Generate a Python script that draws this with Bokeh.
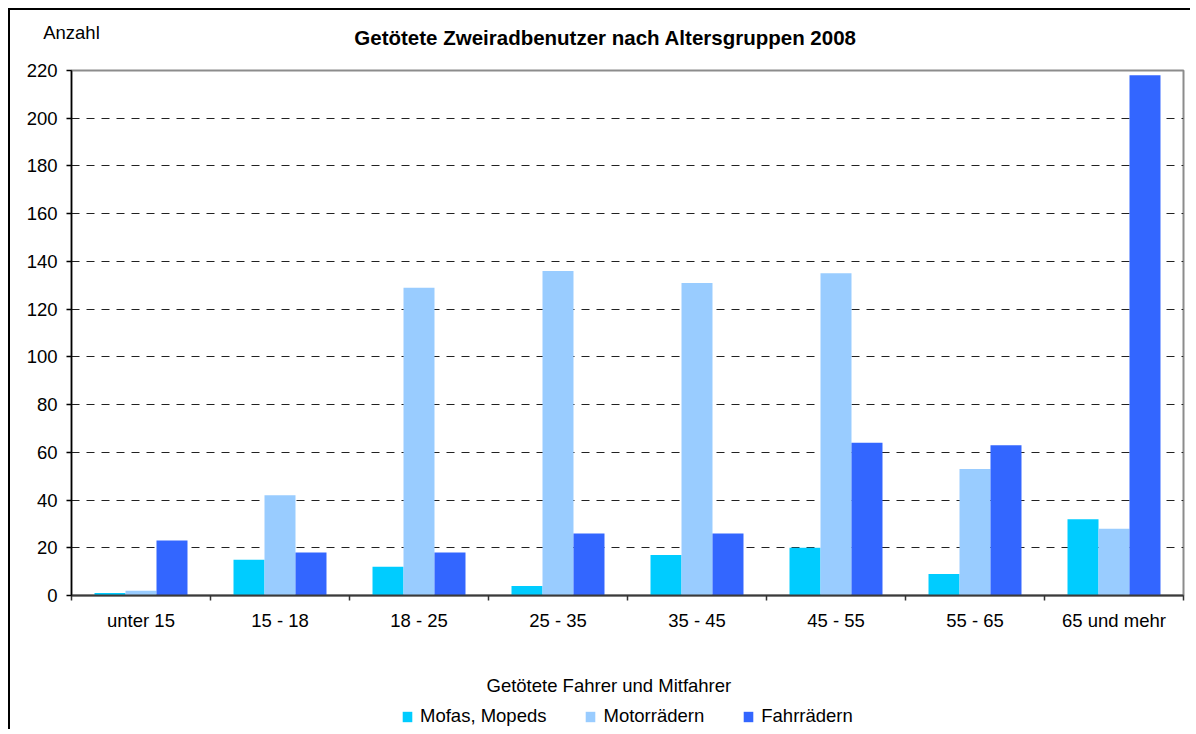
import numpy as np
from bokeh.plotting import figure
from bokeh.layouts import column
from bokeh.models import Range1d, FixedTicker, Legend, LegendItem, LinearAxis, Label
from bokeh.embed import file_html
from bokeh.resources import INLINE

# ---- data ----
categories = ["unter 15", "15 - 18", "18 - 25", "25 - 35", "35 - 45", "45 - 55", "55 - 65", "65 und mehr"]
mofas = [1, 15, 12, 4, 17, 20, 9, 32]
motorraeder = [2, 42, 129, 136, 131, 135, 53, 28]
fahrraeder = [23, 18, 18, 26, 26, 64, 63, 218]
series_names = ["Mofas, Mopeds", "Motorrädern", "Fahrrädern"]
series_colors = ["#00CCFF", "#99CCFF", "#3366FF"]
y_ticks = list(range(0, 221, 20))
title_text = "Getötete Zweiradbenutzer nach Altersgruppen 2008"
y_unit = "Anzahl"
legend_title = "Getötete Fahrer und Mitfahrer"

FONT = "Liberation Sans"
FS = "18.5px"
W = 1180

p = figure(width=W, height=625, x_range=Range1d(0, len(categories)),
           y_range=Range1d(0, 220), output_backend="svg", toolbar_location=None,
           min_border_left=61, min_border_right=7, min_border_top=60, min_border_bottom=40)
p.background_fill_color = "white"
p.border_fill_color = "white"
p.outline_line_color = "#8c8c8c"
p.outline_line_width = 2

bar_w = 0.223
centers = np.arange(len(categories)) + 0.5
series_values = [mofas, motorraeder, fahrraeder]
renderers = []
for k, (vals, color) in enumerate(zip(series_values, series_colors)):
    r = p.vbar(x=centers + (k - 1) * bar_w, top=vals, bottom=0, width=bar_w,
               fill_color=color, line_color=None)
    renderers.append(r)

# x axis
xa = p.xaxis[0]
xa.ticker = FixedTicker(ticks=list(centers), minor_ticks=list(range(len(categories) + 1)))
xa.major_label_overrides = {float(c): lab for c, lab in zip(centers, categories)}
xa.major_tick_out = 0
xa.major_tick_in = 0
xa.minor_tick_out = 5
xa.minor_tick_in = 0
xa.minor_tick_line_color = "#333333"
xa.minor_tick_line_width = 1.5
xa.axis_line_color = "#3a3a3a"
xa.axis_line_width = 2
xa.major_label_standoff = 9
xa.major_label_text_font = FONT
xa.major_label_text_font_size = FS
xa.major_label_text_color = "#000000"

# y axis
ya = p.yaxis[0]
ya.ticker = FixedTicker(ticks=y_ticks)
ya.major_tick_out = 5
ya.major_tick_in = 0
ya.major_tick_line_color = "#000000"
ya.major_tick_line_width = 1.5
ya.minor_tick_line_color = None
ya.axis_line_color = "#000000"
ya.axis_line_width = 1.5
ya.major_label_standoff = 9
ya.major_label_text_font = FONT
ya.major_label_text_font_size = FS
ya.major_label_text_color = "#000000"

p.xgrid.visible = False
p.ygrid.ticker = FixedTicker(ticks=y_ticks[1:-1])
p.ygrid.grid_line_color = "#222222"
p.ygrid.grid_line_dash = "8 7"
p.ygrid.grid_line_width = 1.2

# ---- above: chart title (nearest), then unit label ----
TITLE_X = 3.842  # horizontal anchor of the title, in category units
title_axis = LinearAxis(ticker=FixedTicker(ticks=[TITLE_X]), major_label_overrides={TITLE_X: title_text},
                        axis_line_color=None, major_tick_line_color=None,
                        minor_tick_line_color=None, major_tick_out=0, major_tick_in=0,
                        major_label_standoff=22, major_label_text_font=FONT,
                        major_label_text_font_size="20.5px", major_label_text_font_style="bold",
                        major_label_text_color="#000000")
p.add_layout(title_axis, "above")
unit_axis = LinearAxis(ticker=FixedTicker(ticks=[0]), major_label_overrides={0: y_unit},
                       axis_line_color=None, major_tick_line_color=None,
                       minor_tick_line_color=None, major_tick_out=0, major_tick_in=0,
                       major_label_standoff=-20, major_label_text_font=FONT,
                       major_label_text_font_size=FS, major_label_text_color="#000000")
p.add_layout(unit_axis, "above")

# ---- legend panel (separate figure below the chart; hidden bars only feed the legend) ----
q = figure(width=W, height=94, x_range=Range1d(0, len(categories)), y_range=Range1d(0, 220),
           output_backend="svg", toolbar_location=None, x_axis_type=None, y_axis_type=None,
           min_border=0, min_border_left=0, min_border_right=0, min_border_top=0,
           min_border_bottom=0)
q.outline_line_color = None
q.xgrid.visible = False
q.ygrid.visible = False
q.background_fill_color = "white"
q.border_fill_color = "white"
legend_renderers = []
for k, (vals, color) in enumerate(zip(series_values, series_colors)):
    lr = q.vbar(x=centers + (k - 1) * bar_w, top=vals, bottom=0, width=bar_w,
                fill_color=color, line_color=None)
    lr.visible = False
    legend_renderers.append(lr)
q.add_layout(Label(x=415, y=44, x_units="screen", y_units="screen", text=legend_title,
                   text_font=FONT, text_font_size=FS, text_align="left",
                   text_baseline="alphabetic", text_color="#000000"))
legend = Legend(items=[LegendItem(label=n, renderers=[r]) for n, r in zip(series_names, legend_renderers)],
                orientation="horizontal", location=(330, 2), glyph_width=12, glyph_height=13,
                label_standoff=7, spacing=38, padding=0, margin=0,
                border_line_color=None, background_fill_alpha=0,
                label_text_font=FONT, label_text_font_size=FS, label_text_color="#000000")
q.add_layout(legend)

layout = column(p, q, spacing=0)
layout.styles = {"margin-left": "8px", "margin-top": "8px",
                 "border-left": "2px solid #000000", "border-top": "2px solid #000000"}

open("out.html", "w").write(file_html(layout, INLINE))
